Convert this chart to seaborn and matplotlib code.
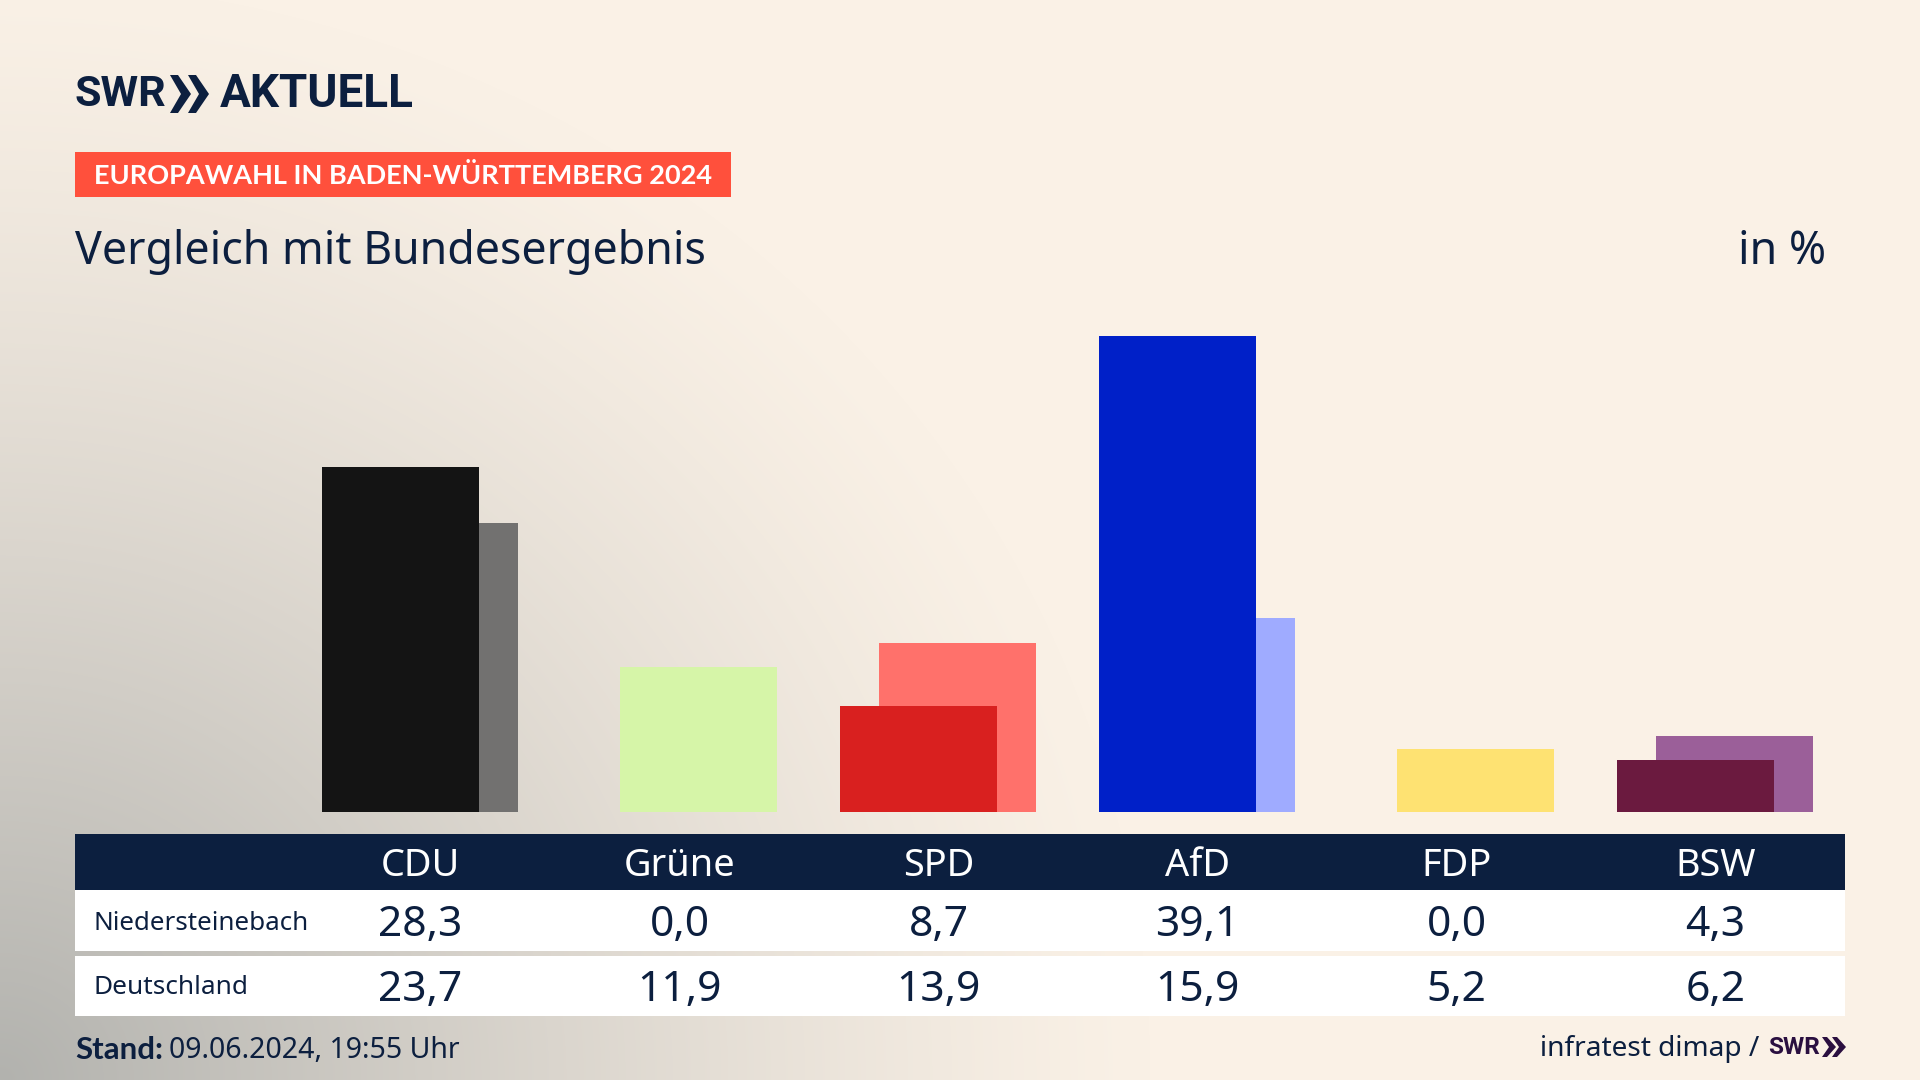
import matplotlib
matplotlib.use("Agg")
import matplotlib.pyplot as plt
import seaborn as sns
import numpy as np
import pandas as pd
from matplotlib.patches import Rectangle, Polygon
from matplotlib.colors import to_rgb

# values from the chart
parties = ["CDU", "Grüne", "SPD", "AfD", "FDP", "BSW"]
region_values = [28.3, 0.0, 8.7, 39.1, 0.0, 4.3]
national_values = [23.7, 11.9, 13.9, 15.9, 5.2, 6.2]
region_labels = ["28,3", "0,0", "8,7", "39,1", "0,0", "4,3"]
national_labels = ["23,7", "11,9", "13,9", "15,9", "5,2", "6,2"]
region_colors = ["#141414", "#d6f5a8", "#d9201f", "#0020c8", "#fee272", "#6b1a3f"]
national_colors = ["#727170", "#d6f5a8", "#ff716b", "#9fabff", "#fee272", "#9b5f99"]

NAVY = "#0c1f3f"
PURPLE = "#2a0f40"
BOLD = "Lato"
LOGO = "Roboto"
W, H = 1920, 1080

sns.set_theme(style="white")
plt.rcParams["font.family"] = ["Noto Sans", "DejaVu Sans"]

fig = plt.figure(figsize=(W / 100, H / 100), dpi=100)

# background: cream with a grey glow out of the lower left corner
ax_bg = fig.add_axes([0, 0, 1, 1])
yy, xx = np.mgrid[0:H, 0:W]
dist = np.sqrt((xx / 1150.0) ** 2 + ((H - yy) / 1100.0) ** 2)
glow = np.clip(1 - dist, 0, 1) ** 1.25
cream = np.array(to_rgb("#faf1e6"))
grey = np.array(to_rgb("#b2b2ae"))
ax_bg.imshow(cream + (grey - cream) * glow[..., None], aspect="auto", extent=(0, W, H, 0))
ax_bg.axis("off")

# bars: 259 px per party, baseline at y=812, 12.18 px per percent point
base_y = 812
ax = fig.add_axes([0, (H - base_y) / H, 1, base_y / H])
ax.patch.set_alpha(0)
pos = np.arange(len(parties))
df = pd.DataFrame({"party": parties, "pos": pos, "region": region_values, "national": national_values})
df["pos_back"] = df["pos"] + 39.3 / 259

sns.barplot(data=df, x="pos_back", y="national", hue="party", palette=dict(zip(parties, national_colors)),
            native_scale=True, width=157 / 259, dodge=False, legend=False, saturation=1, linewidth=0, ax=ax)
sns.barplot(data=df, x="pos", y="region", hue="party", palette=dict(zip(parties, region_colors)),
            native_scale=True, width=157 / 259, dodge=False, legend=False, saturation=1, linewidth=0, ax=ax)
ax.set_xlim(-400.5 / 259, (W - 400.5) / 259)
ax.set_ylim(0, base_y / 12.18)
ax.axis("off")

# everything else is placed in pixel coordinates
ov = fig.add_axes([0, 0, 1, 1])
ov.set_xlim(0, W)
ov.set_ylim(H, 0)
ov.axis("off")
ov.patch.set_alpha(0)

# table
ov.add_patch(Rectangle((75, 834), 1770, 56, color=NAVY, lw=0))
ov.add_patch(Rectangle((75, 890), 1770, 61, color="white", lw=0))
ov.add_patch(Rectangle((75, 956), 1770, 60, color="white", lw=0))

col_x = 420.5 + pos * 259
for x, p, a, b in zip(col_x, parties, region_labels, national_labels):
    ov.text(x, 866, p, color="white", fontsize=27.3, ha="center", va="center")
    ov.text(x, 925, a, color=NAVY, fontsize=30.6, ha="center", va="center")
    ov.text(x, 990, b, color=NAVY, fontsize=30.6, ha="center", va="center")
ov.text(94, 923, "Niedersteinebach", color=NAVY, fontsize=18.7, ha="left", va="center")
ov.text(94, 988, "Deutschland", color=NAVY, fontsize=18.9, ha="left", va="center")

# header
ov.text(75, 94, "SWR", color=NAVY, fontsize=31, fontfamily=LOGO, fontweight="bold", ha="left", va="center")
ov.text(220, 94, "AKTUELL", color=NAVY, fontsize=33, fontfamily=LOGO, fontweight="bold", ha="left", va="center")
for dx in (0, 18):
    ov.add_patch(Polygon([[170 + dx, 75], [178 + dx, 75], [191 + dx, 94], [178 + dx, 113], [170 + dx, 113], [181 + dx, 94]],
                         closed=True, color=NAVY, lw=0))

ov.add_patch(Rectangle((75, 152), 656, 45, color="#ff503c", lw=0))
ov.text(94, 176, "EUROPAWAHL IN BADEN-WÜRTTEMBERG 2024", color="white", fontsize=19.5, fontfamily=BOLD, fontweight="bold",
        ha="left", va="center")
ov.text(75, 252, "Vergleich mit Bundesergebnis", color=NAVY, fontsize=32.2, ha="left", va="center")
ov.text(1826, 252, "in %", color=NAVY, fontsize=32.2, ha="right", va="center")

# footer
ov.text(75, 1050, "Stand:", color=NAVY, fontsize=22.5, fontfamily=BOLD, fontweight="bold", ha="left", va="center")
ov.text(169, 1050, "09.06.2024, 19:55 Uhr", color=NAVY, fontsize=20.5, ha="left", va="center")
ov.text(1759, 1049, "infratest dimap /", color=NAVY, fontsize=20.2, ha="right", va="center")
ov.text(1768, 1048, "SWR", color=PURPLE, fontsize=17.5, fontfamily=LOGO, fontweight="bold", ha="left", va="center")
for dx in (0, 10):
    ov.add_patch(Polygon([[1822 + dx, 1037], [1827 + dx, 1037], [1836 + dx, 1047], [1827 + dx, 1057], [1822 + dx, 1057], [1829 + dx, 1047]],
                         closed=True, color=PURPLE, lw=0))

fig.savefig("out.png", dpi=100)
